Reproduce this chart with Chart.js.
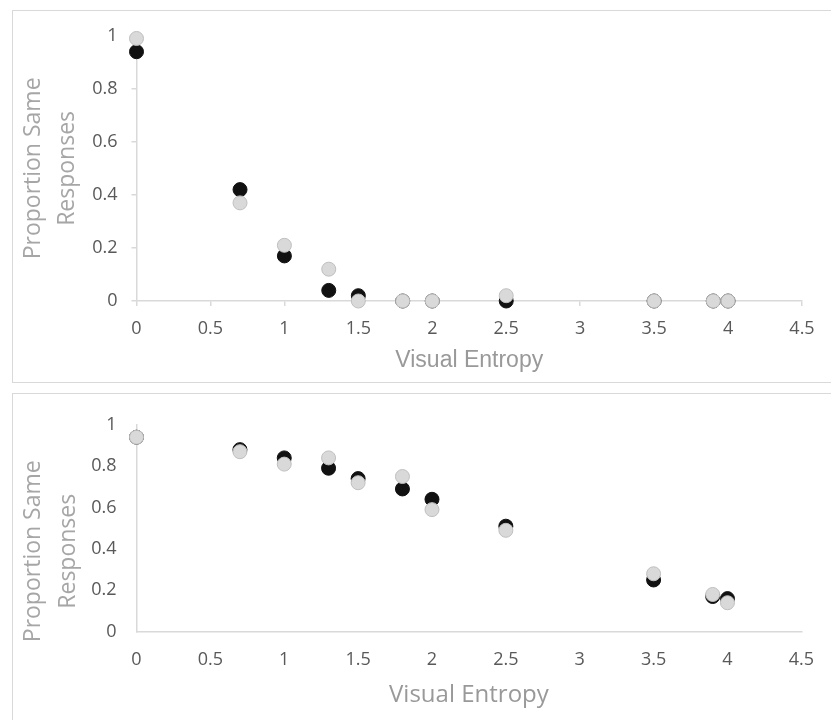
<!DOCTYPE html>
<html>
<head>
<meta charset="utf-8">
<title>Visual Entropy</title>
<script src="https://cdn.jsdelivr.net/npm/chart.js@4.4.1/dist/chart.umd.min.js"></script>
<style>
  body { margin: 0; background: #fff; overflow: hidden; width: 831px; height: 720px; position: relative; }
  .box { position: absolute; left: 12px; width: 818px; height: 371px; border: 1px solid #d9d9d9; }
  #boxTop { top: 10px; }
  #boxBottom { top: 393px; }
  canvas { display: block; }
</style>
</head>
<body>
<div class="box" id="boxTop"><canvas id="chartTop" width="818" height="371"></canvas></div>
<div class="box" id="boxBottom"><canvas id="chartBottom" width="818" height="371"></canvas></div>
<script>
// data
const entropy = [0, 0.7, 1, 1.3, 1.5, 1.8, 2, 2.5, 3.5, 3.9, 4];

const topBlack = [0.94, 0.42, 0.17, 0.04, 0.02, 0, 0, 0, 0, 0, 0];
const topGray = [0.99, 0.37, 0.21, 0.12, 0, 0, 0, 0.02, 0, 0, 0];

const bottomBlack = [0.94, 0.88, 0.84, 0.79, 0.74, 0.69, 0.64, 0.51, 0.25, 0.17, 0.16];
const bottomGray = [0.94, 0.87, 0.81, 0.84, 0.72, 0.75, 0.59, 0.49, 0.28, 0.18, 0.14];

const xTicks = [0, 0.5, 1, 1.5, 2, 2.5, 3, 3.5, 4, 4.5];
const yTicks = [0, 0.2, 0.4, 0.6, 0.8, 1];

const xTitle = 'Visual Entropy';
const yTitle = ['Proportion Same', 'Responses'];

// helper to zip x and y arrays into points
function toPoints(xs, ys) {
  return xs.map((x, i) => ({ x: x, y: ys[i] }));
}

// draws the two-line rotated y title
const yTitlePlugin = {
  id: 'yTitle',
  afterDraw(chart, args, opts) {
    const ctx = chart.ctx;
    const area = chart.chartArea;
    const cy = (area.top + area.bottom) / 2 + opts.shift;
    ctx.save();
    ctx.fillStyle = '#a6a6a6';
    ctx.font = '23px "Open Sans"';
    ctx.textAlign = 'center';
    ctx.textBaseline = 'middle';
    opts.lines.forEach((line, i) => {
      ctx.save();
      ctx.translate(opts.x[i], cy);
      ctx.rotate(-Math.PI / 2);
      ctx.fillText(line, 0, 0);
      ctx.restore();
    });
    ctx.restore();
  }
};

function makeChart(id, black, gray, cfg) {
  const ctx = document.getElementById(id).getContext('2d');
  return new Chart(ctx, {
    type: 'scatter',
    data: {
      datasets: [
        {
          // gray drawn on top
          data: toPoints(entropy, gray),
          backgroundColor: '#d9d9d9',
          borderColor: '#bfbfbf',
          borderWidth: 1,
          pointRadius: 7,
          pointHoverRadius: 7,
          clip: false
        },
        {
          data: toPoints(entropy, black),
          backgroundColor: '#111111',
          borderColor: '#111111',
          borderWidth: 1,
          pointRadius: 7,
          pointHoverRadius: 7,
          clip: false
        }
      ]
    },
    options: {
      responsive: false,
      animation: false,
      devicePixelRatio: 1,
      layout: {
        padding: { left: 0, right: 29, top: cfg.padTop, bottom: cfg.padBottom }
      },
      plugins: {
        legend: { display: false },
        tooltip: { enabled: false },
        yTitle: { lines: yTitle, x: cfg.yTitleX, shift: cfg.yTitleShift }
      },
      scales: {
        x: {
          type: 'linear',
          min: 0,
          max: 4.5,
          afterBuildTicks: (scale) => { scale.ticks = xTicks.map(v => ({ value: v })); },
          afterFit: (scale) => { scale.height = cfg.xAxisHeight; },
          border: { display: true, color: '#d9d9d9', width: 1.5 },
          grid: {
            display: true,
            drawOnChartArea: false,
            drawTicks: cfg.drawTicks,
            tickLength: 5,
            color: '#d9d9d9',
            lineWidth: 1.5
          },
          ticks: {
            padding: cfg.xTickPad,
            color: '#595959',
            font: { family: 'Open Sans', size: 18 },
            maxRotation: 0,
            callback: (v) => String(v)
          },
          title: {
            display: true,
            text: xTitle,
            color: '#999999',
            font: cfg.xTitleFont,
            padding: { top: 0, bottom: cfg.xTitlePad }
          }
        },
        y: {
          type: 'linear',
          min: 0,
          max: 1,
          afterBuildTicks: (scale) => { scale.ticks = yTicks.map(v => ({ value: v })); },
          afterFit: (scale) => { scale.width = 123.5; },
          border: { display: true, color: '#d9d9d9', width: 1.5 },
          grid: {
            display: true,
            drawOnChartArea: false,
            drawTicks: cfg.drawTicks,
            tickLength: 5,
            color: '#d9d9d9',
            lineWidth: 1.5
          },
          ticks: {
            padding: cfg.yTickPad,
            color: '#595959',
            font: { family: 'Open Sans', size: 18 },
            callback: (v) => String(v)
          },
          title: { display: false }
        }
      }
    },
    plugins: [yTitlePlugin]
  });
}

makeChart('chartTop', topBlack, topGray, {
  padTop: 17.3,
  padBottom: 0,
  xAxisHeight: 81,
  drawTicks: true,
  xTickPad: 12,
  yTickPad: 14,
  xTitleFont: { family: 'Liberation Sans', size: 23 },
  xTitlePad: 8,
  yTitleX: [20, 54],
  yTitleShift: 0
});

makeChart('chartBottom', bottomBlack, bottomGray, {
  padTop: 13.7,
  padBottom: 48.3,
  xAxisHeight: 85,
  drawTicks: false,
  xTickPad: 17,
  yTickPad: 20,
  xTitleFont: { family: 'Open Sans', size: 24 },
  xTitlePad: 7.3,
  yTitleX: [20, 55],
  yTitleShift: 23
});
</script>
</body>
</html>
